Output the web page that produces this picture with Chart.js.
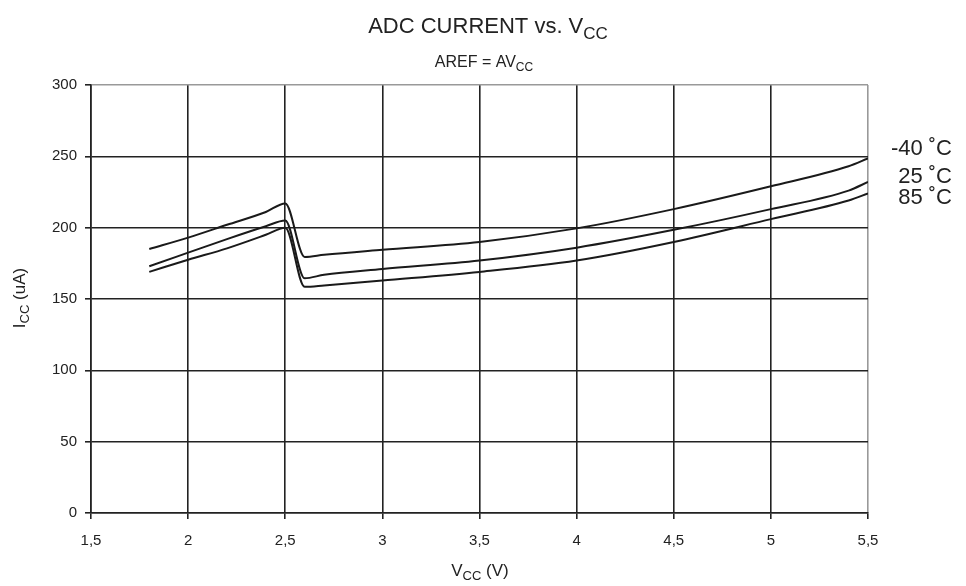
<!DOCTYPE html>
<html>
<head>
<meta charset="utf-8">
<script src="https://cdn.jsdelivr.net/npm/chart.js@4"></script>
<style>
  html, body { margin: 0; padding: 0; background: #fff; }
  #wrap { width: 966px; height: 586px; position: relative; }
</style>
</head>
<body>
<div id="wrap"><canvas id="chart" width="966" height="586"></canvas></div>
<script>
// --- Data ---
const vccValues = [1.8, 2.0, 2.2, 2.4, 2.5, 2.6, 2.7, 3.0, 3.5, 4.0, 4.5, 5.0, 5.4, 5.5];
const iccMinus40 = [185, 193, 202, 211, 217, 179.5, 181, 184.5, 190, 199.5, 213, 229, 243, 248.5];
const icc25 = [173, 182.5, 192, 201, 205, 164.5, 167, 171, 177, 186, 198.5, 213, 226, 232];
const icc85 = [169, 177.5, 185.5, 195, 200, 158.5, 159.5, 163, 169, 177, 190, 206, 219, 224];
const seriesLabels = ['-40 ˚C', '25 ˚C', '85 ˚C'];
const xTicks = [1.5, 2, 2.5, 3, 3.5, 4, 4.5, 5, 5.5];
const yTicks = [0, 50, 100, 150, 200, 250, 300];

const FONT = '"Liberation Sans", Arial, sans-serif';
const INK = '#222';

function toPoints(ys) {
  return vccValues.map((x, i) => ({ x: x, y: ys[i] }));
}

// text with a subscript part, centred on cx
function drawSub(ctx, main, sub, tail, cx, cy, size) {
  const subSize = Math.round(size * 0.75);
  ctx.font = size + 'px ' + FONT;
  const w1 = ctx.measureText(main).width;
  const w3 = tail ? ctx.measureText(tail).width : 0;
  ctx.font = subSize + 'px ' + FONT;
  const w2 = ctx.measureText(sub).width;
  let x = cx - (w1 + w2 + w3) / 2;
  ctx.textAlign = 'left';
  ctx.textBaseline = 'alphabetic';
  ctx.font = size + 'px ' + FONT;
  ctx.fillText(main, x, cy);
  x += w1;
  ctx.font = subSize + 'px ' + FONT;
  ctx.fillText(sub, x, cy + size * 0.25);
  x += w2;
  if (tail) {
    ctx.font = size + 'px ' + FONT;
    ctx.fillText(tail, x, cy);
  }
}

const textPlugin = {
  id: 'textPlugin',
  afterDraw(chart) {
    const ctx = chart.ctx;
    ctx.save();
    ctx.fillStyle = INK;
    // titles
    drawSub(ctx, 'ADC CURRENT vs. V', 'CC', '', 488, 33, 22);
    drawSub(ctx, 'AREF = AV', 'CC', '', 484, 67, 16);
    // x axis title
    drawSub(ctx, 'V', 'CC', ' (V)', 480, 576, 17);
    // y axis title (rotated)
    ctx.translate(25, 298);
    ctx.rotate(-Math.PI / 2);
    drawSub(ctx, 'I', 'CC', ' (uA)', 0, 0, 17);
    ctx.restore();

    // series labels at the right end
    ctx.save();
    ctx.fillStyle = INK;
    ctx.font = '22px ' + FONT;
    ctx.textAlign = 'right';
    ctx.textBaseline = 'middle';
    const ys = [149, 177, 198];
    seriesLabels.forEach((t, i) => ctx.fillText(t, 952, ys[i]));
    ctx.restore();
  }
};

const lineStyle = {
  borderColor: '#1a1a1a',
  borderWidth: 2,
  pointRadius: 0,
  fill: false,
  cubicInterpolationMode: 'monotone'
};

new Chart(document.getElementById('chart').getContext('2d'), {
  type: 'line',
  data: {
    datasets: [
      Object.assign({ label: seriesLabels[0], data: toPoints(iccMinus40) }, lineStyle),
      Object.assign({ label: seriesLabels[1], data: toPoints(icc25) }, lineStyle),
      Object.assign({ label: seriesLabels[2], data: toPoints(icc85) }, lineStyle)
    ]
  },
  options: {
    responsive: false,
    animation: false,
    layout: { padding: { left: 0, right: 98, top: 85, bottom: 0 } },
    plugins: {
      legend: { display: false },
      title: { display: false },
      tooltip: { enabled: false }
    },
    scales: {
      x: {
        type: 'linear',
        min: 1.5,
        max: 5.5,
        afterBuildTicks(scale) { scale.ticks = xTicks.map(v => ({ value: v })); },
        afterFit(scale) { scale.height = 73; },
        ticks: {
          color: INK,
          font: { family: FONT, size: 15 },
          padding: 13,
          maxRotation: 0,
          callback: v => String(v).replace('.', ',')
        },
        grid: {
          color: ctx => (ctx.tick && ctx.tick.value === 5.5) ? '#999' : INK,
          lineWidth: 1.6,
          tickLength: 6,
          tickColor: INK
        },
        border: { color: INK, width: 1.6 }
      },
      y: {
        min: 0,
        max: 300,
        afterBuildTicks(scale) { scale.ticks = yTicks.map(v => ({ value: v })); },
        afterFit(scale) { scale.width = 91; },
        ticks: {
          color: INK,
          font: { family: FONT, size: 15 },
          padding: 8
        },
        grid: {
          color: ctx => (ctx.tick && ctx.tick.value === 300) ? '#999' : INK,
          lineWidth: 1.6,
          tickLength: 6,
          tickColor: INK
        },
        border: { color: INK, width: 1.6 }
      }
    }
  },
  plugins: [textPlugin]
});
</script>
</body>
</html>
